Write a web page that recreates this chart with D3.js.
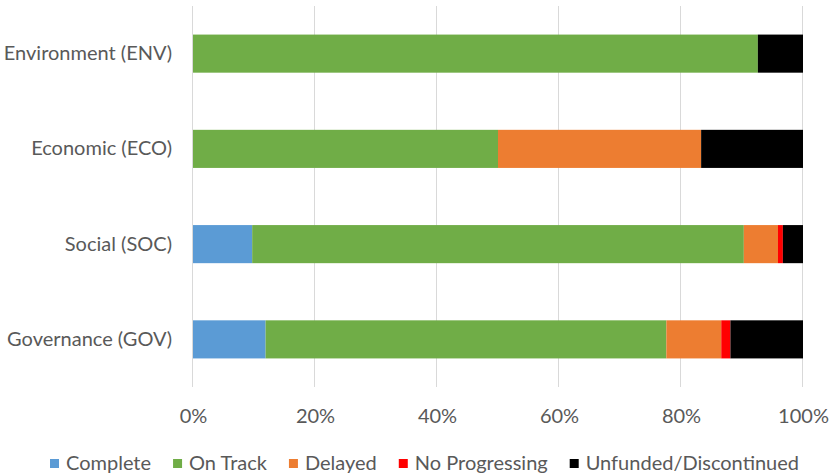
<!DOCTYPE html>
<html>
<head>
<meta charset="utf-8">
<script src="https://cdn.jsdelivr.net/npm/d3@7"></script>
<style>
  body { margin: 0; background: #fff; }
  text { font-family: Lato, "Open Sans", sans-serif; fill: #595959; }
</style>
</head>
<body>
<div id="chart"></div>
<script>
const categories = ["Environment (ENV)", "Economic (ECO)", "Social (SOC)", "Governance (GOV)"];
const seriesNames = ["Complete", "On Track", "Delayed", "No Progressing", "Unfunded/Discontinued"];
const colors = ["#5B9BD5", "#70AD47", "#ED7D31", "#FF0000", "#000000"];

// shares per category (%), in series order
const complete      = [0,    0,    9.7,  11.9];
const onTrack       = [92.6, 50.0, 80.6, 65.7];
const delayed       = [0,    33.3, 5.6,  9.0];
const noProgressing = [0,    0,    0.8,  1.5];
const unfunded      = [7.4,  16.7, 3.3,  11.9];
const tickValues = [0, 0.2, 0.4, 0.6, 0.8, 1];

let width = 832,
    height = 476,
    margin = ({ top: 6, right: 29, bottom: 89, left: 193 });

const fontSize = 20;

const svg = d3.select("#chart")
  .append("svg")
  .attr("width", width)
  .attr("height", height);

const rows = categories.map((c, i) => ({
  cat: c,
  "Complete": complete[i],
  "On Track": onTrack[i],
  "Delayed": delayed[i],
  "No Progressing": noProgressing[i],
  "Unfunded/Discontinued": unfunded[i]
}));

const stack = d3.stack().keys(seriesNames).offset(d3.stackOffsetExpand);
const layers = stack(rows);

let x = d3.scaleLinear()
  .domain([0, 1])
  .range([margin.left, width - margin.right]);

let y = d3.scaleBand()
  .domain(categories)
  .range([margin.top, height - margin.bottom])
  .paddingInner(0.6)
  .paddingOuter(0.3);

// gridlines
svg.append("g")
  .selectAll("line")
  .data(tickValues)
  .join("line")
  .attr("x1", d => Math.round(x(d)) - 0.5)
  .attr("x2", d => Math.round(x(d)) - 0.5)
  .attr("y1", margin.top)
  .attr("y2", height - margin.bottom)
  .attr("stroke", "#D9D9D9")
  .attr("stroke-width", 1);

// bars
svg.append("g")
  .selectAll("g")
  .data(layers)
  .join("g")
  .attr("fill", (d, i) => colors[i])
  .selectAll("rect")
  .data(d => d)
  .join("rect")
  .attr("x", d => x(d[0]))
  .attr("width", d => x(d[1]) - x(d[0]))
  .attr("y", d => y(d.data.cat))
  .attr("height", y.bandwidth());

// x axis
const xAxis = svg.append("g")
  .attr("transform", `translate(0,${height - margin.bottom})`)
  .call(d3.axisBottom(x)
    .tickValues(tickValues)
    .tickFormat(d3.format(".0%"))
    .tickSize(0)
    .tickPadding(22));
xAxis.select(".domain").remove();
xAxis.selectAll("text").attr("font-size", fontSize).style("font-family", "Lato, 'Open Sans', sans-serif").attr("fill", "#595959");

// y axis
const yAxis = svg.append("g")
  .attr("transform", `translate(${margin.left},0)`)
  .call(d3.axisLeft(y).tickSize(0).tickPadding(21));
yAxis.select(".domain").remove();
yAxis.selectAll("text").attr("font-size", fontSize).style("font-family", "Lato, 'Open Sans', sans-serif").attr("fill", "#595959");

// legend
const legend = svg.append("g").attr("transform", "translate(0,463)");
let lx = 50;
seriesNames.forEach((name, i) => {
  const item = legend.append("g").attr("transform", `translate(${lx},0)`);
  item.append("rect")
    .attr("x", 0).attr("y", -4)
    .attr("width", 9).attr("height", 9)
    .attr("fill", colors[i]);
  const t = item.append("text")
    .attr("x", 16)
    .attr("dy", "0.35em")
    .attr("font-size", fontSize)
    .text(name);
  lx += 16 + t.node().getComputedTextLength() + 22;
});
</script>
</body>
</html>
